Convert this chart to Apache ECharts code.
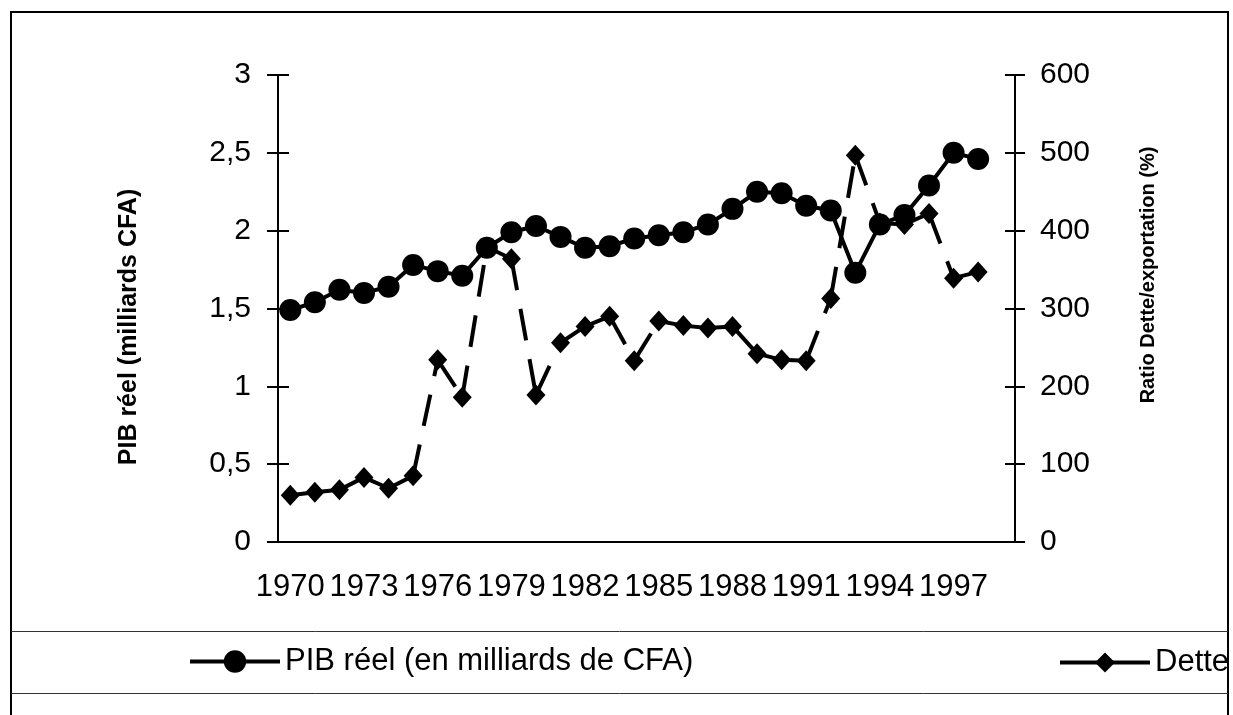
<!DOCTYPE html>
<html>
<head>
<meta charset="utf-8">
<script src="https://cdn.jsdelivr.net/npm/echarts@6/dist/echarts.min.js"></script>
<style>
	html, body { margin: 0; padding: 0; background: #fff; }
	#chart { width: 1229px; height: 715px; }
</style>
</head>
<body>
<div id="chart"></div>
<script>
const years = [
	"1970", "1971", "1972", "1973", "1974", "1975", "1976", "1977", "1978", "1979",
	"1980", "1981", "1982", "1983", "1984", "1985", "1986", "1987", "1988", "1989",
	"1990", "1991", "1992", "1993", "1994", "1995", "1996", "1997", "1998", "1999",
];
// PIB réel, milliards CFA (axe gauche)
const pibValues = [
	1.49, 1.54, 1.62, 1.60, 1.64, 1.78, 1.74, 1.71, 1.89, 1.99,
	2.03, 1.96, 1.89, 1.90, 1.95, 1.97, 1.99, 2.04, 2.14, 2.25,
	2.24, 2.16, 2.13, 1.73, 2.04, 2.10, 2.29, 2.50, 2.46,
];
// Ratio dette/exportation, % (axe droit)
const detteValues = [
	60, 64, 67, 83, 69, 85, 234, 186, 379, 364,
	189, 256, 277, 290, 233, 284, 278, 275, 277, 242,
	234, 233, 313, 497, 410, 408, 422, 339, 347,
];
const pibName = "PIB réel (en milliards de CFA)";
const detteName = "Dette/exportation (%)";
const leftTicks = { min: 0, max: 3, interval: 0.5 };
const rightTicks = { min: 0, max: 600, interval: 100 };

const font = "'Liberation Sans', Arial, sans-serif";
const black = "#000";

const chart = echarts.init(document.getElementById("chart"));

// Excel restarts the dash pattern on every segment, so draw each segment on its own
const detteSegments = detteValues.slice(0, -1).map((_, i) => ({
	type: "line",
	yAxisIndex: 1,
	data: years.map((_, j) => (j === i || j === i + 1 ? detteValues[j] : null)),
	showSymbol: false,
	silent: true,
	z: 1,
	lineStyle: { color: black, width: 4, type: [32, 19] },
}));

const tickAxis = (position, ticks, inside, length) => ({
	type: "value",
	position,
	min: ticks.min,
	max: ticks.max,
	interval: ticks.interval,
	splitLine: { show: false },
	axisLine: { show: !inside, lineStyle: { color: black, width: 2 } },
	axisTick: { show: true, inside, length, lineStyle: { color: black, width: 2 } },
	axisLabel: inside
		? { show: false }
		: {
			show: true,
			margin: position === "left" ? 27 : 25,
			color: black,
			fontSize: 30,
			fontFamily: font,
			formatter: (v) => String(v).replace(".", ","),
		},
});

chart.setOption({
	animation: false,
	backgroundColor: "#fff",
	grid: { left: 278, right: 214, top: 75, bottom: 173, containLabel: false },
	xAxis: [
		{
			type: "category",
			data: years,
			position: "bottom",
			boundaryGap: true,
			axisLine: { onZero: false, lineStyle: { color: black, width: 2 } },
			axisTick: { interval: 0, length: 10, lineStyle: { color: black, width: 2 } },
			axisLabel: { interval: 2, margin: 30, color: black, fontSize: 31, fontFamily: font },
			splitLine: { show: false },
		},
		{
			type: "category",
			data: years,
			position: "bottom",
			boundaryGap: true,
			axisLine: { show: false, onZero: false },
			axisTick: { interval: 0, inside: true, length: 10, lineStyle: { color: black, width: 2 } },
			axisLabel: { show: false },
			splitLine: { show: false },
		},
	],
	yAxis: [
		tickAxis("left", leftTicks, false, 11),
		tickAxis("right", rightTicks, false, 10),
		tickAxis("left", leftTicks, true, 11),
		tickAxis("right", rightTicks, true, 10),
	],
	legend: [
		{
			left: 188,
			top: 646,
			padding: 0,
			itemWidth: 90,
			itemHeight: 28,
			selectedMode: false,
			textStyle: { color: black, fontSize: 31, fontFamily: font },
			data: [{ name: pibName, lineStyle: { color: black, width: 4, type: "solid" } }],
		},
		{
			left: 1058,
			top: 647,
			padding: 0,
			itemWidth: 90,
			itemHeight: 25,
			selectedMode: false,
			textStyle: { color: black, fontSize: 31, fontFamily: font },
			data: [{ name: detteName, lineStyle: { color: black, width: 4, type: "solid" } }],
		},
	],
	graphic: [
		{
			type: "rect",
			silent: true,
			shape: { x: 11, y: 12, width: 1217, height: 730 },
			style: { fill: "none", stroke: black, lineWidth: 2 },
		},
		{
			type: "line",
			silent: true,
			shape: { x1: 11, y1: 631.5, x2: 1228, y2: 631.5 },
			style: { stroke: "#333", lineWidth: 1 },
		},
		{
			type: "line",
			silent: true,
			shape: { x1: 11, y1: 693.5, x2: 1228, y2: 693.5 },
			style: { stroke: "#333", lineWidth: 1 },
		},
		{
			type: "text",
			x: 129,
			y: 327,
			rotation: Math.PI / 2,
			style: {
				text: "PIB réel (milliards CFA)",
				fill: black,
				font: "bold 25px " + font,
				align: "center",
				verticalAlign: "middle",
			},
		},
		{
			type: "text",
			x: 1148,
			y: 275,
			rotation: Math.PI / 2,
			style: {
				text: "Ratio Dette/exportation (%)",
				fill: black,
				font: "bold 20px " + font,
				align: "center",
				verticalAlign: "middle",
			},
		},
	],
	series: [
		...detteSegments,
		{
			name: detteName,
			type: "line",
			yAxisIndex: 1,
			data: detteValues,
			symbol: "diamond",
			symbolSize: [19, 21],
			showAllSymbol: true,
			z: 2,
			itemStyle: { color: black },
			lineStyle: { color: "rgba(0,0,0,0)", width: 4 },
		},
		{
			name: pibName,
			type: "line",
			yAxisIndex: 0,
			data: pibValues,
			symbol: "circle",
			symbolSize: 22,
			showAllSymbol: true,
			z: 3,
			itemStyle: { color: black },
			lineStyle: { color: black, width: 4 },
		},
	],
});
</script>
</body>
</html>
